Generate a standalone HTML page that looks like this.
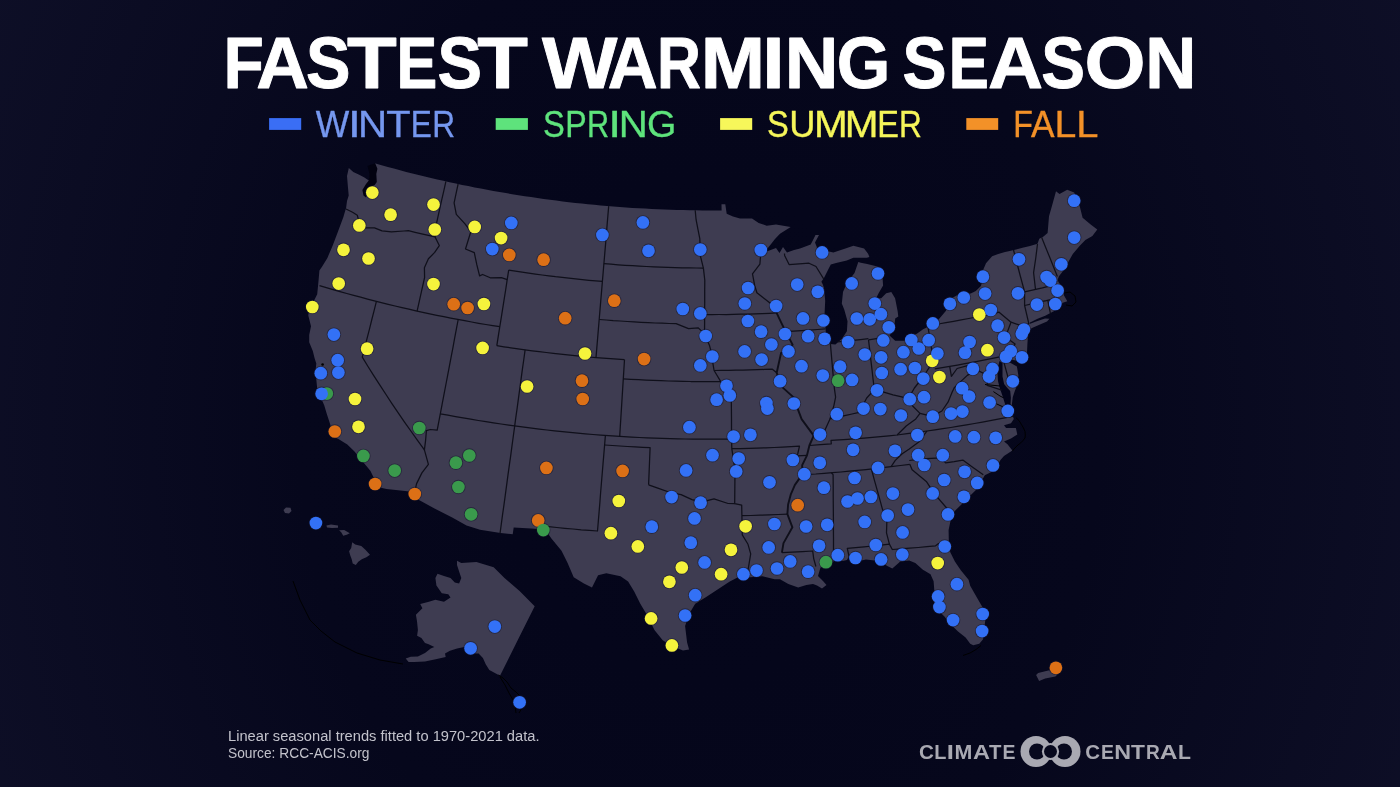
<!DOCTYPE html>
<html><head><meta charset="utf-8"><style>
html,body{margin:0;padding:0;background:#0a0b20;}
body{width:1400px;height:787px;overflow:hidden;position:relative;}
svg{position:absolute;left:0;top:0;}
text{font-family:"Liberation Sans",sans-serif;}
</style></head><body>
<svg width="1400" height="787" viewBox="0 0 1400 787">
<defs><filter id="gaa" x="-0.05" y="-0.3" width="1.1" height="1.6"><feOffset dx="0" dy="0"/></filter><radialGradient id="vg" cx="700" cy="430" r="800" gradientUnits="userSpaceOnUse" gradientTransform="translate(700 430) scale(1 1.25) translate(-700 -430)">
<stop offset="0" stop-color="#04051a"/><stop offset="0.5" stop-color="#06071c"/><stop offset="1" stop-color="#0e0f27"/></radialGradient></defs>
<rect width="1400" height="787" fill="url(#vg)"/>
<g filter="url(#gaa)" stroke="#fff" stroke-width="0.9" stroke-linejoin="round"><g aria-label="FASTEST"><text transform="translate(223.58 88.1) scale(0.9095 1)" font-size="72.6" font-weight="bold" fill="#fff">F</text><text transform="translate(256.18 88.1) scale(1.0040 1)" font-size="72.6" font-weight="bold" fill="#fff">A</text><text transform="translate(306.08 88.1) scale(0.9196 1)" font-size="72.6" font-weight="bold" fill="#fff">S</text><text transform="translate(347.08 88.1) scale(1.1228 1)" font-size="72.6" font-weight="bold" fill="#fff">T</text><text transform="translate(396.51 88.1) scale(0.8421 1)" font-size="72.6" font-weight="bold" fill="#fff">E</text><text transform="translate(437.48 88.1) scale(0.9196 1)" font-size="72.6" font-weight="bold" fill="#fff">S</text><text transform="translate(477.37 88.1) scale(1.1438 1)" font-size="72.6" font-weight="bold" fill="#fff">T</text></g><g aria-label="WARMING"><text transform="translate(542.12 88.1) scale(1.1012 1)" font-size="72.6" font-weight="bold" fill="#fff">W</text><text transform="translate(607.78 88.1) scale(0.9526 1)" font-size="72.6" font-weight="bold" fill="#fff">A</text><text transform="translate(656.93 88.1) scale(0.8376 1)" font-size="72.6" font-weight="bold" fill="#fff">R</text><text transform="translate(700.83 88.1) scale(1.0638 1)" font-size="72.6" font-weight="bold" fill="#fff">M</text><text transform="translate(762.31 88.1) scale(1.1092 1)" font-size="72.6" font-weight="bold" fill="#fff">I</text><text transform="translate(784.63 88.1) scale(1.0239 1)" font-size="72.6" font-weight="bold" fill="#fff">N</text><text transform="translate(836.87 88.1) scale(0.9492 1)" font-size="72.6" font-weight="bold" fill="#fff">G</text></g><g aria-label="SEASON"><text transform="translate(902.50 88.1) scale(0.9104 1)" font-size="72.6" font-weight="bold" fill="#fff">S</text><text transform="translate(948.67 88.1) scale(0.8298 1)" font-size="72.6" font-weight="bold" fill="#fff">E</text><text transform="translate(987.90 88.1) scale(1.0512 1)" font-size="72.6" font-weight="bold" fill="#fff">A</text><text transform="translate(1041.21 88.1) scale(0.9035 1)" font-size="72.6" font-weight="bold" fill="#fff">S</text><text transform="translate(1084.58 88.1) scale(1.0804 1)" font-size="72.6" font-weight="bold" fill="#fff">O</text><text transform="translate(1145.17 88.1) scale(0.9747 1)" font-size="72.6" font-weight="bold" fill="#fff">N</text></g></g>
<rect x="269.1" y="118.1" width="32.1" height="11.8" fill="#3a6ef5"/>
<rect x="495.7" y="118.1" width="32.2" height="11.8" fill="#5ee37c"/>
<rect x="720.1" y="118.1" width="32.1" height="11.8" fill="#f7f75a"/>
<rect x="966.3" y="118.1" width="31.9" height="11.8" fill="#f39128"/>
<g filter="url(#gaa)"><g aria-label="WINTER" stroke="#7597ef" stroke-width="0.35"><text transform="translate(315.74 136.9) scale(0.9383 1)" font-size="37.8" font-weight="normal" fill="#7597ef">W</text><text transform="translate(348.05 136.9) scale(1.2198 1)" font-size="37.8" font-weight="normal" fill="#7597ef">I</text><text transform="translate(358.10 136.9) scale(1.0656 1)" font-size="37.8" font-weight="normal" fill="#7597ef">N</text><text transform="translate(386.21 136.9) scale(1.0527 1)" font-size="37.8" font-weight="normal" fill="#7597ef">T</text><text transform="translate(410.81 136.9) scale(0.8347 1)" font-size="37.8" font-weight="normal" fill="#7597ef">E</text><text transform="translate(432.20 136.9) scale(0.8376 1)" font-size="37.8" font-weight="normal" fill="#7597ef">R</text></g><g aria-label="SPRING" stroke="#5ee37c" stroke-width="0.35"><text transform="translate(542.92 136.9) scale(0.8639 1)" font-size="37.8" font-weight="normal" fill="#5ee37c">S</text><text transform="translate(565.36 136.9) scale(0.8500 1)" font-size="37.8" font-weight="normal" fill="#5ee37c">P</text><text transform="translate(586.89 136.9) scale(0.8109 1)" font-size="37.8" font-weight="normal" fill="#5ee37c">R</text><text transform="translate(608.25 136.9) scale(1.2198 1)" font-size="37.8" font-weight="normal" fill="#5ee37c">I</text><text transform="translate(618.80 136.9) scale(1.0656 1)" font-size="37.8" font-weight="normal" fill="#5ee37c">N</text><text transform="translate(647.00 136.9) scale(0.9969 1)" font-size="37.8" font-weight="normal" fill="#5ee37c">G</text></g><g aria-label="SUMMER" stroke="#f5f55a" stroke-width="0.35"><text transform="translate(767.02 136.9) scale(0.8639 1)" font-size="37.8" font-weight="normal" fill="#f5f55a">S</text><text transform="translate(789.30 136.9) scale(0.9597 1)" font-size="37.8" font-weight="normal" fill="#f5f55a">U</text><text transform="translate(814.08 136.9) scale(1.0717 1)" font-size="37.8" font-weight="normal" fill="#f5f55a">M</text><text transform="translate(844.68 136.9) scale(1.0717 1)" font-size="37.8" font-weight="normal" fill="#f5f55a">M</text><text transform="translate(877.24 136.9) scale(0.8591 1)" font-size="37.8" font-weight="normal" fill="#f5f55a">E</text><text transform="translate(899.10 136.9) scale(0.8376 1)" font-size="37.8" font-weight="normal" fill="#f5f55a">R</text></g><g aria-label="FALL" stroke="#f39128" stroke-width="0.35"><text transform="translate(1013.17 136.9) scale(0.8498 1)" font-size="37.8" font-weight="normal" fill="#f39128">F</text><text transform="translate(1030.93 136.9) scale(0.9336 1)" font-size="37.8" font-weight="normal" fill="#f39128">A</text><text transform="translate(1054.58 136.9) scale(1.0380 1)" font-size="37.8" font-weight="normal" fill="#f39128">L</text><text transform="translate(1076.33 136.9) scale(1.0560 1)" font-size="37.8" font-weight="normal" fill="#f39128">L</text></g></g>
<g fill="#3e3c51">
<path d="M348.8,168.1 L353.3,171.9 L358.7,174.5 L364.0,177.2 L368.8,180.4 L370.0,176.0 L372.5,170.0 L375.2,163.3 L375.5,163.5 L381.6,165.3 L387.8,167.0 L393.9,168.6 L400.1,170.3 L406.2,171.9 L412.4,173.5 L418.6,175.0 L424.8,176.5 L431.0,178.0 L437.2,179.4 L443.4,180.8 L449.6,182.2 L455.9,183.5 L462.1,184.9 L468.3,186.1 L474.6,187.4 L480.8,188.6 L487.1,189.8 L493.4,190.9 L499.6,192.0 L505.9,193.1 L512.2,194.2 L518.5,195.2 L524.8,196.2 L531.1,197.1 L537.4,198.1 L543.7,198.9 L550.0,199.8 L556.3,200.6 L562.7,201.4 L569.0,202.2 L575.3,202.9 L581.7,203.6 L588.0,204.2 L594.3,204.8 L600.7,205.4 L607.0,206.0 L613.4,206.5 L619.7,207.0 L626.1,207.5 L632.5,207.9 L638.8,208.3 L645.2,208.6 L651.5,209.0 L657.9,209.3 L664.3,209.5 L670.6,209.7 L677.0,209.9 L683.4,210.1 L689.7,210.2 L696.1,210.3 L702.5,210.4 L708.9,210.4 L715.2,210.4 L721.6,210.4 L721.5,204.3 L725.3,204.3 L726.7,213.7 L733.0,216.5 L740.0,218.4 L752.0,218.4 L758.7,223.0 L766.7,225.7 L776.0,224.4 L790.7,227.0 L780.0,233.7 L775.0,239.0 L770.7,244.4 L765.4,251.0 L768.0,251.0 L776.0,248.0 L779.5,253.0 L783.0,247.0 L787.0,252.5 L794.0,250.0 L800.0,248.4 L810.7,244.4 L812.5,241.0 L815.5,235.0 L819.0,235.0 L815.0,242.5 L817.4,248.4 L826.7,251.0 L833.4,252.4 L845.4,248.4 L853.4,245.7 L864.1,248.4 L868.1,253.7 L869.4,257.0 L866.8,257.7 L853.4,257.7 L846.8,260.4 L836.1,263.0 L830.8,264.4 L828.1,269.7 L824.1,277.7 L821.4,281.7 L822.7,284.3 L824.0,288.1 L825.2,300.8 L824.6,313.5 L825.2,326.2 L826.5,337.7 L830.3,344.0 L835.4,344.5 L841.8,339.0 L846.9,331.3 L847.5,321.2 L844.3,309.7 L841.8,303.4 L843.0,291.9 L846.9,283.0 L854.5,272.9 L858.3,262.0 L860.8,262.7 L867.2,264.0 L877.4,266.5 L882.4,275.4 L883.1,285.6 L878.6,293.2 L876.1,298.3 L881.2,298.3 L886.2,293.2 L891.3,291.9 L895.1,298.3 L897.7,311.4 L898.3,316.5 L895.2,318.4 L894.5,325.4 L893.3,330.5 L889.5,335.6 L895.2,340.7 L904.1,340.7 L911.7,335.6 L916.8,333.7 L923.1,329.2 L928.2,326.7 L933.0,323.0 L939.0,319.1 L946.0,310.8 L947.0,303.0 L951.0,298.5 L956.7,295.4 L964.0,294.0 L970.7,293.5 L975.8,291.0 L980.9,285.9 L981.9,282.5 L982.9,270.4 L986.0,263.3 L992.1,256.2 L998.2,254.1 L1005.0,252.1 L1007.5,251.6 L1015.0,249.8 L1022.5,247.8 L1030.0,245.9 L1037.5,243.8 L1039.3,238.7 L1043.5,236.6 L1047.6,233.1 L1049.0,216.3 L1051.8,206.6 L1056.0,191.2 L1059.5,194.0 L1067.2,189.8 L1074.2,192.6 L1079.8,206.6 L1082.6,217.7 L1091.0,224.7 L1097.3,229.6 L1092.4,235.9 L1085.4,240.1 L1079.8,245.7 L1072.8,254.1 L1067.2,263.9 L1063.0,270.9 L1058.8,276.5 L1057.6,280.0 L1059.0,283.0 L1063.5,287.5 L1063.9,295.2 L1067.3,301.3 L1062.8,302.8 L1060.5,305.8 L1055.2,310.4 L1045.2,315.7 L1037.6,318.8 L1030.0,322.6 L1029.5,324.0 L1036.0,321.5 L1045.0,318.5 L1049.5,318.8 L1047.0,321.5 L1040.0,324.5 L1032.0,328.0 L1029.0,330.0 L1028.1,333.1 L1027.4,344.3 L1026.7,358.3 L1021.1,363.9 L1016.0,360.5 L1010.0,359.5 L1009.0,362.0 L1016.9,366.4 L1018.4,375.6 L1016.9,385.7 L1014.9,390.8 L1012.8,396.9 L1011.8,405.0 L1010.8,407.0 L1009.5,407.5 L1011.5,412.0 L1013.8,419.0 L1011.0,423.2 L1004.0,425.3 L1006.1,428.1 L1015.9,428.1 L1017.3,434.4 L1011.0,438.6 L1004.0,441.4 L1007.5,444.2 L1012.4,450.5 L1004.0,456.0 L1000.5,460.0 L998.2,463.9 L992.4,471.5 L984.8,475.3 L977.2,488.7 L969.6,496.3 L961.9,503.9 L954.3,511.5 L950.5,521.1 L948.6,530.0 L948.8,540.0 L948.8,544.6 L950.3,552.2 L954.9,561.4 L961.0,570.5 L968.6,579.7 L970.2,585.8 L976.3,596.4 L982.4,607.1 L985.4,619.3 L983.9,631.5 L983.1,639.2 L979.3,643.7 L973.2,645.3 L970.2,643.7 L965.6,637.6 L958.0,631.5 L951.9,625.4 L944.2,616.3 L938.1,610.2 L932.8,599.5 L934.3,590.3 L933.6,581.2 L930.5,574.3 L922.9,569.7 L915.3,562.9 L909.2,560.6 L900.0,561.4 L898.9,562.7 L892.3,568.4 L887.3,566.0 L879.1,561.0 L865.9,559.4 L859.3,561.0 L851.0,562.7 L848.5,557.0 L847.0,560.0 L842.7,561.0 L834.5,561.0 L829.5,562.7 L826.0,566.0 L820.5,567.5 L818.0,576.0 L823.0,581.0 L826.5,585.0 L822.0,588.5 L817.0,585.5 L813.0,584.0 L806.4,585.0 L798.2,587.4 L788.3,584.1 L780.0,579.2 L774.6,579.3 L762.4,576.3 L750.2,577.3 L738.0,577.3 L729.8,581.4 L717.6,589.5 L705.4,597.6 L695.2,603.7 L689.1,613.9 L685.1,626.1 L687.1,642.4 L689.1,649.5 L683.0,650.5 L672.9,646.4 L662.7,640.3 L654.6,630.2 L646.4,613.9 L640.3,603.7 L634.2,591.5 L628.1,581.4 L620.5,576.3 L606.3,573.2 L598.1,575.2 L592.0,587.5 L583.9,583.4 L573.7,577.3 L567.6,563.0 L561.5,550.8 L551.4,538.6 L545.2,529.5 L531.0,528.5 L513.7,527.5 L512.7,534.2 L500.5,532.9 L480.0,529.8 L466.5,525.4 L452.2,517.4 L434.5,508.5 L416.7,498.7 L409.6,491.6 L386.5,488.9 L377.6,487.1 L374.0,478.2 L370.5,471.1 L363.3,462.2 L354.5,451.6 L347.3,444.5 L338.4,439.1 L331.3,435.6 L330.4,424.9 L326.9,414.2 L324.2,405.3 L319.9,395.6 L317.2,388.5 L316.3,379.6 L315.5,370.7 L316.3,363.6 L314.6,358.3 L312.8,351.1 L309.2,342.2 L309.2,335.1 L311.0,326.2 L308.3,315.6 L309.2,308.5 L314.6,299.6 L317.2,294.2 L318.1,285.3 L318.5,281.0 L319.4,270.4 L322.0,266.8 L327.4,257.9 L332.7,245.4 L338.1,231.2 L343.4,217.0 L345.2,210.7 L346.1,208.1 L347.0,201.0 L348.7,195.6 L347.9,186.7 L347.0,176.0Z"/>
<path d="M457.0,560.8 L461.3,563.0 L476.4,561.9 L493.7,567.3 L504.5,578.1 L519.6,591.0 L534.7,606.2 L517.8,640.0 L500.0,675.7 L489.3,670.0 L485.7,664.3 L482.9,657.9 L478.6,653.6 L471.4,653.6 L464.3,647.1 L457.1,648.6 L450.0,650.7 L445.0,653.6 L445.7,657.1 L435.7,659.3 L425.0,661.4 L414.3,662.1 L408.6,662.1 L405.7,658.6 L410.7,656.8 L417.9,656.4 L425.0,652.9 L430.7,648.6 L434.3,647.1 L428.6,644.3 L425.0,642.9 L421.4,637.9 L417.1,635.7 L417.9,630.0 L417.0,621.3 L415.9,614.8 L422.4,608.3 L420.2,604.0 L428.9,601.8 L435.4,599.7 L444.0,601.8 L450.5,597.5 L448.3,594.3 L441.8,593.2 L436.4,585.6 L435.4,578.1 L437.5,573.8 L444.0,575.9 L450.5,578.1 L454.8,582.4 L459.1,583.5 L461.3,578.1 L459.1,571.6 L457.0,565.1Z"/>
<path d="M283.5,510.0 L286.0,507.5 L290.5,507.8 L291.5,511.0 L289.0,513.5 L285.0,513.0Z"/><path d="M326.4,525.5 L331.0,524.6 L338.0,525.5 L338.0,527.8 L332.0,528.0 L327.0,527.5Z"/><path d="M339.1,530.2 L344.2,529.9 L349.8,533.2 L346.8,534.7 L343.2,535.8 L341.2,532.2Z"/><path d="M352.2,542.3 L355.2,544.6 L361.3,546.1 L365.4,549.7 L370.0,554.7 L366.4,557.3 L361.8,559.3 L358.3,561.8 L355.8,564.9 L352.7,563.4 L351.7,559.3 L350.2,555.2 L349.1,551.2 L351.2,548.1Z"/>
<path d="M1036.1,674.9 L1038.1,672.9 L1049.3,670.3 L1058.5,673.4 L1055.4,676.4 L1045.2,678.5 L1039.1,681.0Z"/>
</g>
<path d="M367.5,166.0 L375.2,163.3 L377.4,168.7 L376.3,174.0 L376.8,182.0 L374.7,185.0 L370.5,187.0 L368.5,192.0 L366.0,197.5 L363.5,195.5 L362.4,190.0 L366.0,184.0 L368.8,180.4 L369.5,174.0Z" fill="#020210"/>
<path d="M999.5,361.0 L1002.5,363.0 L1002.5,376.4 L1004.1,384.0 L1007.1,387.8 L1010.2,390.9 L1010.9,397.7 L1010.5,404.0 L1012.0,407.0 L1009.0,408.5 L1005.5,405.5 L1003.5,399.0 L1001.5,393.0 L999.5,387.0 L998.0,381.0 L997.5,374.0 L998.0,367.0Z" fill="#03041a"/>
<g fill="none" stroke="#000" stroke-width="1" stroke-linejoin="round"><path d="M293.0,581.0 L300.0,600.0 L310.0,620.0 L321.0,631.0 L335.0,642.0 L357.0,653.0 L380.0,660.0 L403.0,664.0"/><path d="M498.5,675.0 L503.0,678.0 L507.0,682.0 L511.0,688.0 L516.0,692.0 L520.0,696.0 L523.0,701.0 L522.0,708.0 L519.0,713.0"/><path d="M500.0,677.0 L505.0,685.0 L509.0,693.0 L513.0,700.0 L515.0,706.0 L516.0,713.0"/><path d="M1064.0,293.0 L1070.0,292.0 L1075.0,296.0 L1076.0,302.0 L1072.0,306.0 L1066.0,305.0"/><path d="M981.0,645.5 L976.0,649.5 L970.0,653.0 L963.0,655.5"/><path d="M1015.9,417.6 L1019.0,420.5 L1021.5,424.6 L1023.5,428.0 L1025.0,431.6 L1025.3,435.0 L1025.0,437.9 L1023.0,440.5 L1020.8,442.8 L1018.0,445.0 L1015.9,447.0 L1014.0,449.0 L1012.4,451.2"/><path d="M985.0,384.5 L990.0,385.0 L995.0,385.5 L1000.0,386.0"/><path d="M993.4,391.6 L997.0,394.0 L1000.0,396.0 L1003.3,397.7"/><path d="M996.4,403.8 L1000.0,405.5 L1004.8,407.6"/></g>
<g fill="none" stroke="#0f0f1a" stroke-width="1.25" stroke-linejoin="round"><path d="M346.0,209.0 L352.6,212.3 L357.3,215.2 L358.6,220.5 L358.6,225.1 L364.8,227.8 L374.5,227.9 L382.0,230.9 L391.4,231.8 L404.0,231.0 L408.4,230.7 L415.1,232.3 L421.7,233.9 L428.4,235.4 L435.1,236.9"/><path d="M445.9,181.4 L443.8,190.8 L441.6,200.3 L439.5,209.8 L437.4,219.3 L435.2,228.8 L435.1,236.9"/><path d="M435.1,236.9 L439.3,245.6 L434.7,252.4 L428.4,258.8 L424.4,267.7 L424.6,277.5 L422.1,288.7 L419.6,299.9 L417.1,311.1"/><path d="M319.5,285.6 L326.3,287.6 L333.1,289.6 L340.0,291.6 L346.8,293.5 L353.7,295.4 L360.6,297.2 L367.5,299.1 L374.4,300.9 L381.3,302.6 L388.2,304.3 L395.1,306.0 L402.0,307.6 L408.9,309.2 L415.9,310.8 L422.8,312.3 L429.8,313.8 L436.8,315.3 L443.8,316.7 L450.7,318.1 L457.7,319.4 L464.7,320.7 L471.7,322.0 L478.7,323.3 L485.8,324.5 L492.8,325.6 L499.8,326.7"/><path d="M376.4,301.4 L374.1,310.7 L371.7,320.0 L369.4,329.3 L367.0,338.6 L364.6,347.9 L362.3,357.2 L368.0,366.5 L373.9,375.9 L379.9,385.2 L386.0,394.5 L392.1,403.8 L398.4,413.1 L404.7,422.3 L411.2,431.5 L417.7,440.7 L424.4,449.9"/><path d="M424.4,449.9 L425.6,440.3 L426.4,430.7 L430.4,429.5 L437.2,430.2 L440.3,413.8"/><path d="M440.3,413.8 L442.1,404.4 L443.9,394.9 L445.7,385.5 L447.5,376.1 L449.3,366.6 L451.1,357.2 L452.9,347.8 L454.6,338.3 L456.4,328.9 L458.2,319.5"/><path d="M424.4,449.9 L428.4,464.3 L421.9,472.9 L416.6,483.6 L414.5,492.5"/><path d="M499.8,326.7 L501.3,317.3 L502.8,307.8 L504.3,298.4 L505.8,289.0 L507.2,279.6 L508.7,270.2"/><path d="M507.2,279.6 L501.4,277.7 L490.3,277.8 L482.6,274.5 L479.6,275.9 L476.8,264.7 L474.3,252.7 L465.5,249.0 L470.8,231.7 L465.0,223.9 L456.3,214.4 L454.1,202.8 L456.1,193.4 L458.1,184.0"/><path d="M508.7,270.2 L515.4,271.2 L522.1,272.2 L528.7,273.2 L535.4,274.1 L542.1,275.0 L548.8,275.8 L555.5,276.7 L562.2,277.4 L568.9,278.2 L575.6,278.9 L582.3,279.6 L589.0,280.3 L595.7,280.9 L602.4,281.4"/><path d="M608.7,206.1 L607.9,215.5 L607.1,224.9 L606.4,234.2 L605.6,243.7 L604.8,253.1 L604.0,262.5 L603.2,272.0 L602.4,281.4 L601.6,290.9 L600.8,300.4 L600.0,309.9 L599.2,319.5 L598.4,329.0 L597.6,338.5 L596.8,348.1 L596.0,357.6"/><path d="M496.8,345.7 L503.9,346.8 L510.9,347.8 L518.0,348.8 L525.1,349.8 L532.2,350.8 L539.2,351.7 L546.3,352.5 L553.4,353.4 L560.5,354.2 L567.6,354.9 L574.7,355.7 L581.8,356.4 L588.9,357.0 L596.0,357.6 L603.1,358.2 L610.3,358.7 L617.4,359.2 L624.5,359.7"/><path d="M499.8,326.7 L498.3,336.2 L496.8,345.7"/><path d="M525.1,349.8 L523.8,359.5 L522.4,369.2 L521.1,378.9 L519.8,388.5 L518.5,398.2 L517.2,407.9 L515.8,417.6 L514.5,427.3 L513.2,437.0 L511.9,446.7 L510.6,456.4 L509.2,466.1 L507.9,475.7 L506.6,485.4 L505.3,495.1 L504.0,504.7 L502.6,514.4 L501.3,524.1 L500.0,533.7"/><path d="M440.3,413.8 L447.9,415.2 L455.5,416.6 L463.1,417.9 L470.7,419.2 L478.3,420.5 L485.9,421.7 L493.5,422.9 L501.1,424.0 L508.8,425.1 L516.4,426.2 L524.0,427.2 L531.7,428.1 L539.3,429.1 L547.0,430.0 L554.6,430.8 L562.3,431.6 L570.0,432.4 L577.7,433.1 L585.3,433.8 L593.0,434.5 L600.7,435.1 L608.4,435.6 L616.1,436.1 L623.8,436.6 L631.5,437.1 L639.2,437.5 L646.9,437.8 L654.6,438.1 L662.3,438.4 L670.0,438.7 L677.7,438.9 L685.4,439.0 L693.1,439.1 L700.8,439.2 L708.5,439.2 L716.2,439.2 L723.9,439.2 L731.6,439.1"/><path d="M624.5,359.7 L623.9,369.3 L623.3,378.9 L622.7,388.4 L622.1,398.0 L621.5,407.6 L620.9,417.2 L620.3,426.8 L619.7,436.4"/><path d="M623.3,378.9 L630.8,379.3 L638.3,379.7 L645.8,380.1 L653.3,380.4 L660.8,380.7 L668.3,381.0 L675.8,381.2 L683.3,381.3 L690.8,381.5 L698.3,381.5 L705.8,381.6 L713.3,381.6 L720.8,381.6"/><path d="M605.4,435.4 L604.6,445.0 L603.8,454.6 L603.0,464.1 L602.2,473.7 L601.4,483.3 L600.6,492.8 L599.9,502.4 L599.1,511.9 L598.3,521.5 L597.5,531.0 L589.3,530.4 L581.2,529.8 L573.0,529.0 L564.9,528.3 L556.8,527.5 L548.6,526.7 L540.5,525.8"/><path d="M604.7,445.0 L612.3,445.5 L619.8,446.0 L627.4,446.5 L635.0,446.9 L642.6,447.3 L650.1,447.6 L649.6,460.0 L649.1,472.4 L648.6,484.8"/><path d="M648.6,484.8 L657.8,488.2 L670.2,492.5 L681.1,494.6 L692.0,499.6 L701.4,502.2 L714.0,498.8 L728.1,503.5 L734.7,503.6"/><path d="M599.2,319.5 L606.2,320.0 L613.2,320.6 L620.2,321.0 L627.2,321.5 L634.1,321.9 L641.1,322.3 L648.1,322.7 L655.1,323.0 L662.1,323.2 L669.1,323.5 L676.1,323.7 L688.5,328.7 L698.3,327.9 L704.5,333.9"/><path d="M603.9,263.7 L611.0,264.2 L618.1,264.8 L625.2,265.3 L632.3,265.7 L639.4,266.1 L646.5,266.5 L653.6,266.8 L660.7,267.1 L667.8,267.4 L674.9,267.6 L682.0,267.8 L689.1,267.9 L696.3,268.0 L703.4,268.1"/><path d="M703.4,268.1 L700.3,255.6 L699.8,238.6 L697.9,229.1 L696.1,219.7 L695.2,210.3"/><path d="M703.4,268.1 L704.8,280.3 L704.7,291.7 L704.7,303.1 L704.6,314.6 L704.6,324.2 L704.5,333.9"/><path d="M704.5,333.9 L709.4,345.2 L711.5,352.8 L712.7,362.4 L714.1,370.5 L720.8,381.6"/><path d="M720.8,381.6 L725.8,391.1 L731.3,398.7 L731.4,408.8 L731.5,418.9 L731.5,429.0 L731.6,439.1 L731.8,448.7"/><path d="M714.1,370.5 L721.4,370.4 L728.6,370.4 L735.9,370.2 L743.1,370.1 L750.4,369.9 L757.6,369.7 L764.9,369.4 L772.1,369.1 L776.7,372.7"/><path d="M704.6,314.6 L711.8,314.6 L719.0,314.5 L726.2,314.5 L733.4,314.4 L740.6,314.2 L747.8,314.1 L755.0,313.8 L762.3,313.6 L769.5,313.3 L776.6,312.9"/><path d="M776.6,312.9 L771.0,303.7 L763.9,298.2 L756.9,292.8 L754.6,285.2 L752.5,273.9 L759.9,264.1 L760.8,252.7"/><path d="M776.6,312.9 L781.1,322.3 L785.7,331.6 L792.6,344.6 L787.4,351.6 L781.1,352.9 L778.9,362.8 L776.7,372.7 L780.6,385.6 L788.6,392.9 L796.7,400.1 L796.6,405.9 L801.6,419.1 L813.7,435.6" stroke-width="1.9"/><path d="M731.8,448.7 L740.2,448.6 L748.7,448.4 L757.2,448.1 L765.7,447.8 L774.1,447.5 L782.6,447.1 L791.1,446.6 L799.5,446.2 L797.7,454.0 L796.7,455.9 L807.0,455.3"/><path d="M813.7,435.6 L809.4,445.5 L807.0,455.3 L802.2,465.2 L802.0,474.9 L794.9,484.9 L790.7,494.7 L788.1,504.5 L787.4,514.1 L792.4,527.3 L783.5,543.1 L781.9,552.7" stroke-width="1.9"/><path d="M731.8,448.7 L733.4,459.2 L735.0,469.8 L734.9,481.1 L734.8,492.3 L734.7,503.6 L741.7,505.2 L741.9,515.7"/><path d="M741.9,515.7 L751.0,515.5 L760.1,515.2 L769.2,514.9 L778.3,514.5 L787.4,514.1"/><path d="M741.9,515.7 L742.1,525.3 L742.3,534.9 L748.0,544.3 L750.7,553.8 L748.5,567.2 L746.3,578.7"/><path d="M781.9,552.7 L792.2,552.2 L802.5,551.6 L812.7,551.0 L813.7,558.6 L815.9,566.5"/><path d="M831.4,472.8 L833.1,474.6 L833.2,485.3 L833.2,496.0 L833.3,506.7 L833.4,517.4 L833.4,528.1 L833.5,538.8 L833.5,549.5 L835.2,560.9"/><path d="M799.0,475.1 L807.3,474.5 L815.7,474.0 L824.1,473.3 L832.5,472.7 L840.9,472.0 L849.3,471.2 L857.6,470.4 L866.0,469.6 L874.4,468.7 L882.7,467.7 L891.1,466.7 L900.5,465.5 L909.8,464.3"/><path d="M871.4,469.0 L874.1,479.1 L876.9,489.1 L879.7,499.2 L882.5,509.3 L886.9,519.4 L886.5,532.9 L889.4,544.1"/><path d="M850.1,561.5 L847.3,548.4 L855.7,547.6 L864.1,546.8 L872.6,546.0 L881.0,545.1 L889.4,544.1 L892.3,549.5 L901.0,548.9 L909.6,548.2 L918.3,547.5 L927.0,546.7 L935.6,545.8 L938.6,543.5 L947.5,542.1"/><path d="M909.8,464.3 L912.1,469.8 L926.3,481.4 L934.5,493.8 L946.2,507.5 L952.3,515.3"/><path d="M891.1,466.7 L895.3,460.4 L902.2,453.7 L909.3,448.9 L919.1,441.7 L927.0,431.0"/><path d="M809.4,445.5 L820.3,444.7 L831.3,443.9 L831.0,440.4 L839.3,439.9 L847.6,439.3 L855.8,438.7 L864.1,438.1 L872.4,437.4 L880.6,436.6 L888.9,435.8 L897.1,435.0 L907.1,433.7 L917.1,432.4 L927.0,431.0"/><path d="M927.0,431.0 L935.0,429.9 L942.9,428.7 L950.8,427.5 L958.7,426.2 L966.6,424.9 L974.5,423.5 L982.4,422.1 L990.2,420.7 L998.1,419.2 L1006.0,417.7 L1013.8,416.1"/><path d="M909.3,460.5 L921.5,458.8 L931.2,458.4 L940.9,457.9 L945.6,462.9 L954.2,461.6 L962.8,460.1 L973.0,467.5 L983.3,474.8"/><path d="M897.1,435.0 L906.2,426.0 L915.8,418.9 L920.0,413.4 L912.4,405.8 L908.4,398.6"/><path d="M920.0,413.4 L932.1,416.4 L941.9,411.0 L948.0,402.2 L952.3,391.7 L954.5,387.4 L960.9,381.4 L967.3,375.4 L976.4,369.8"/><path d="M976.4,369.8 L968.4,365.4 L957.1,368.5 L951.4,376.3 L949.7,366.4"/><path d="M976.4,369.8 L987.5,375.4 L987.2,385.3 L1001.8,390.2"/><path d="M934.8,368.9 L942.3,367.7 L949.8,366.4 L957.4,365.1 L964.9,363.7 L972.4,362.3 L979.9,360.9 L987.4,359.4 L994.9,357.9 L1002.3,356.3"/><path d="M927.8,325.8 L929.9,338.6 L932.0,351.5 L931.4,364.1 L923.1,377.0 L914.4,388.0 L908.4,398.6"/><path d="M908.4,398.6 L900.7,396.7 L893.0,394.8 L883.8,392.1 L874.6,389.4 L866.7,398.0 L859.3,412.3 L852.0,414.0 L844.7,415.7 L837.3,417.3 L830.0,418.9 L823.6,432.9 L813.7,435.6"/><path d="M868.5,339.8 L869.7,349.7 L870.8,359.6 L872.0,369.6 L873.1,379.5 L874.3,389.4"/><path d="M868.5,339.8 L878.1,338.4 L887.7,336.9"/><path d="M837.7,341.9 L845.4,341.2 L853.1,340.4 L860.7,339.6 L868.4,338.7"/><path d="M830.3,342.6 L831.3,354.1 L832.3,365.6 L833.3,377.1 L834.4,388.7 L835.6,397.2 L834.0,405.1 L830.0,418.9"/><path d="M785.7,331.6 L793.6,331.1 L801.5,330.6 L809.5,330.1 L817.4,329.5 L825.3,328.8"/><path d="M823.8,279.2 L816.0,266.5 L809.0,263.2 L802.4,263.7 L795.8,264.2 L789.1,264.6 L784.6,255.4 L784.5,253.5"/><path d="M937.5,318.9 L938.3,324.0 L946.0,322.7 L953.6,321.3 L961.2,319.9 L968.8,318.5 L976.4,317.0 L984.0,315.5 L991.6,313.9 L999.1,312.2 L1011.0,322.2"/><path d="M1011.0,322.2 L1007.3,332.1 L1008.9,339.5 L1015.1,344.1 L1008.8,352.3 L1006.5,355.4"/><path d="M1011.0,322.2 L1023.5,326.4 L1023.0,333.4"/><path d="M1002.3,356.3 L1005.5,368.1 L1008.7,379.9 L1018.1,377.8"/><path d="M1002.3,356.3 L1004.5,353.5 L1007.3,353.7"/><path d="M1013.5,250.0 L1016.9,263.0 L1020.3,276.0 L1024.6,291.9"/><path d="M1024.6,291.9 L1024.6,305.5 L1028.7,323.2 L1027.0,325.6"/><path d="M1024.6,291.9 L1033.5,289.8 L1042.4,287.8 L1051.2,285.6 L1057.2,281.0"/><path d="M1035.5,289.4 L1033.6,272.7 L1035.7,258.5 L1037.5,244.0"/><path d="M1041.6,237.3 L1045.5,247.0 L1049.5,256.8 L1053.4,266.6 L1057.4,276.4"/><path d="M1024.6,305.5 L1031.8,303.9 L1039.1,302.2 L1046.3,300.6 L1053.5,298.8 L1059.6,307.5"/><path d="M1047.8,300.3 L1050.4,313.3"/></g>
<circle cx="322.6" cy="364.5" r="1.3" fill="#000"/>
<g fill="#15162e" fill-opacity="0.55"><circle cx="372.3" cy="192.6" r="7.2"/><circle cx="433.5" cy="204.6" r="7.2"/><circle cx="390.6" cy="214.7" r="7.2"/><circle cx="359.3" cy="225.4" r="7.2"/><circle cx="434.8" cy="229.5" r="7.2"/><circle cx="474.7" cy="226.9" r="7.2"/><circle cx="501.1" cy="238.1" r="7.2"/><circle cx="509.3" cy="254.9" r="7.2"/><circle cx="543.6" cy="259.7" r="7.2"/><circle cx="343.5" cy="249.8" r="7.2"/><circle cx="368.5" cy="258.5" r="7.2"/><circle cx="338.7" cy="283.6" r="7.2"/><circle cx="433.5" cy="284.1" r="7.2"/><circle cx="312.3" cy="307.0" r="7.2"/><circle cx="453.7" cy="304.2" r="7.2"/><circle cx="467.6" cy="308.0" r="7.2"/><circle cx="483.9" cy="304.0" r="7.2"/><circle cx="614.3" cy="300.7" r="7.2"/><circle cx="565.2" cy="318.2" r="7.2"/><circle cx="367.1" cy="348.7" r="7.2"/><circle cx="482.6" cy="347.9" r="7.2"/><circle cx="585.0" cy="353.5" r="7.2"/><circle cx="979.3" cy="314.6" r="7.2"/><circle cx="987.4" cy="350.2" r="7.2"/><circle cx="939.4" cy="377.1" r="7.2"/><circle cx="326.8" cy="393.6" r="7.2"/><circle cx="355.0" cy="399.0" r="7.2"/><circle cx="527.1" cy="386.5" r="7.2"/><circle cx="582.0" cy="380.7" r="7.2"/><circle cx="582.7" cy="399.0" r="7.2"/><circle cx="358.5" cy="426.8" r="7.2"/><circle cx="334.8" cy="431.5" r="7.2"/><circle cx="419.3" cy="428.0" r="7.2"/><circle cx="469.3" cy="455.5" r="7.2"/><circle cx="455.9" cy="462.7" r="7.2"/><circle cx="363.4" cy="455.9" r="7.2"/><circle cx="394.7" cy="470.6" r="7.2"/><circle cx="546.4" cy="467.9" r="7.2"/><circle cx="622.6" cy="470.9" r="7.2"/><circle cx="375.1" cy="484.0" r="7.2"/><circle cx="414.8" cy="494.0" r="7.2"/><circle cx="458.4" cy="487.0" r="7.2"/><circle cx="618.8" cy="501.0" r="7.2"/><circle cx="471.1" cy="514.3" r="7.2"/><circle cx="538.2" cy="520.4" r="7.2"/><circle cx="543.3" cy="530.1" r="7.2"/><circle cx="610.9" cy="533.2" r="7.2"/><circle cx="932.2" cy="360.8" r="7.2"/><circle cx="644.1" cy="359.1" r="7.2"/><circle cx="838.1" cy="380.7" r="7.2"/><circle cx="797.7" cy="505.2" r="7.2"/><circle cx="745.6" cy="526.3" r="7.2"/><circle cx="637.8" cy="546.4" r="7.2"/><circle cx="731.0" cy="549.8" r="7.2"/><circle cx="681.8" cy="567.5" r="7.2"/><circle cx="721.1" cy="574.2" r="7.2"/><circle cx="669.4" cy="581.8" r="7.2"/><circle cx="651.1" cy="618.4" r="7.2"/><circle cx="671.9" cy="645.4" r="7.2"/><circle cx="825.9" cy="562.2" r="7.2"/><circle cx="937.7" cy="563.1" r="7.2"/><circle cx="1055.9" cy="667.8" r="7.2"/><circle cx="511.3" cy="222.9" r="7.2"/><circle cx="492.3" cy="249.1" r="7.2"/><circle cx="602.4" cy="234.9" r="7.2"/><circle cx="333.9" cy="334.6" r="7.2"/><circle cx="642.9" cy="222.4" r="7.2"/><circle cx="648.5" cy="250.8" r="7.2"/><circle cx="700.3" cy="249.6" r="7.2"/><circle cx="760.8" cy="250.1" r="7.2"/><circle cx="822.1" cy="252.4" r="7.2"/><circle cx="878.0" cy="273.5" r="7.2"/><circle cx="748.1" cy="288.0" r="7.2"/><circle cx="797.2" cy="284.6" r="7.2"/><circle cx="817.8" cy="291.8" r="7.2"/><circle cx="851.7" cy="283.4" r="7.2"/><circle cx="744.8" cy="303.5" r="7.2"/><circle cx="776.1" cy="306.0" r="7.2"/><circle cx="682.8" cy="309.0" r="7.2"/><circle cx="700.3" cy="313.4" r="7.2"/><circle cx="874.8" cy="303.6" r="7.2"/><circle cx="880.9" cy="314.2" r="7.2"/><circle cx="856.8" cy="318.5" r="7.2"/><circle cx="869.7" cy="319.3" r="7.2"/><circle cx="803.0" cy="318.4" r="7.2"/><circle cx="823.4" cy="320.5" r="7.2"/><circle cx="747.9" cy="321.0" r="7.2"/><circle cx="761.1" cy="331.7" r="7.2"/><circle cx="785.0" cy="334.0" r="7.2"/><circle cx="808.1" cy="336.2" r="7.2"/><circle cx="824.6" cy="338.8" r="7.2"/><circle cx="705.7" cy="336.0" r="7.2"/><circle cx="771.4" cy="344.5" r="7.2"/><circle cx="848.1" cy="342.1" r="7.2"/><circle cx="888.8" cy="327.3" r="7.2"/><circle cx="883.3" cy="340.4" r="7.2"/><circle cx="911.3" cy="340.0" r="7.2"/><circle cx="928.7" cy="340.2" r="7.2"/><circle cx="918.8" cy="348.5" r="7.2"/><circle cx="932.8" cy="323.4" r="7.2"/><circle cx="949.9" cy="303.8" r="7.2"/><circle cx="963.8" cy="297.5" r="7.2"/><circle cx="969.6" cy="342.0" r="7.2"/><circle cx="1074.2" cy="200.7" r="7.2"/><circle cx="1074.2" cy="237.6" r="7.2"/><circle cx="1019.0" cy="259.3" r="7.2"/><circle cx="1061.3" cy="264.3" r="7.2"/><circle cx="982.9" cy="276.7" r="7.2"/><circle cx="1046.6" cy="277.0" r="7.2"/><circle cx="1050.3" cy="280.6" r="7.2"/><circle cx="1057.6" cy="290.6" r="7.2"/><circle cx="985.1" cy="293.6" r="7.2"/><circle cx="1018.0" cy="293.3" r="7.2"/><circle cx="1036.9" cy="304.6" r="7.2"/><circle cx="1055.3" cy="304.0" r="7.2"/><circle cx="990.8" cy="310.0" r="7.2"/><circle cx="997.6" cy="325.7" r="7.2"/><circle cx="1023.9" cy="329.6" r="7.2"/><circle cx="1021.8" cy="333.8" r="7.2"/><circle cx="1004.1" cy="337.6" r="7.2"/><circle cx="965.0" cy="352.7" r="7.2"/><circle cx="937.4" cy="353.5" r="7.2"/><circle cx="1010.7" cy="351.2" r="7.2"/><circle cx="1006.0" cy="356.7" r="7.2"/><circle cx="1022.0" cy="357.3" r="7.2"/><circle cx="972.9" cy="368.8" r="7.2"/><circle cx="992.5" cy="368.9" r="7.2"/><circle cx="989.0" cy="376.6" r="7.2"/><circle cx="1012.8" cy="381.3" r="7.2"/><circle cx="337.7" cy="360.2" r="7.2"/><circle cx="320.8" cy="373.2" r="7.2"/><circle cx="338.4" cy="372.6" r="7.2"/><circle cx="321.6" cy="393.8" r="7.2"/><circle cx="315.9" cy="523.1" r="7.2"/><circle cx="744.6" cy="351.4" r="7.2"/><circle cx="788.5" cy="351.4" r="7.2"/><circle cx="864.8" cy="354.5" r="7.2"/><circle cx="881.1" cy="357.3" r="7.2"/><circle cx="903.4" cy="352.2" r="7.2"/><circle cx="712.3" cy="356.5" r="7.2"/><circle cx="700.3" cy="365.4" r="7.2"/><circle cx="761.6" cy="359.6" r="7.2"/><circle cx="801.5" cy="366.2" r="7.2"/><circle cx="840.1" cy="366.7" r="7.2"/><circle cx="822.8" cy="375.6" r="7.2"/><circle cx="852.1" cy="379.9" r="7.2"/><circle cx="881.8" cy="373.0" r="7.2"/><circle cx="900.6" cy="369.2" r="7.2"/><circle cx="914.9" cy="368.0" r="7.2"/><circle cx="923.3" cy="378.6" r="7.2"/><circle cx="962.1" cy="388.2" r="7.2"/><circle cx="969.1" cy="396.5" r="7.2"/><circle cx="780.1" cy="381.2" r="7.2"/><circle cx="726.5" cy="385.8" r="7.2"/><circle cx="729.8" cy="395.4" r="7.2"/><circle cx="716.6" cy="399.7" r="7.2"/><circle cx="766.4" cy="403.0" r="7.2"/><circle cx="767.4" cy="408.6" r="7.2"/><circle cx="793.9" cy="403.5" r="7.2"/><circle cx="877.0" cy="390.3" r="7.2"/><circle cx="909.8" cy="399.2" r="7.2"/><circle cx="924.0" cy="397.2" r="7.2"/><circle cx="863.5" cy="408.6" r="7.2"/><circle cx="880.3" cy="409.1" r="7.2"/><circle cx="836.8" cy="414.2" r="7.2"/><circle cx="900.9" cy="415.5" r="7.2"/><circle cx="932.8" cy="416.7" r="7.2"/><circle cx="951.0" cy="413.6" r="7.2"/><circle cx="962.4" cy="411.6" r="7.2"/><circle cx="689.4" cy="427.2" r="7.2"/><circle cx="733.6" cy="436.6" r="7.2"/><circle cx="750.4" cy="434.8" r="7.2"/><circle cx="820.0" cy="434.6" r="7.2"/><circle cx="855.6" cy="432.8" r="7.2"/><circle cx="917.4" cy="435.1" r="7.2"/><circle cx="955.2" cy="436.4" r="7.2"/><circle cx="973.9" cy="437.2" r="7.2"/><circle cx="853.1" cy="449.8" r="7.2"/><circle cx="895.0" cy="450.8" r="7.2"/><circle cx="918.2" cy="455.2" r="7.2"/><circle cx="942.8" cy="455.2" r="7.2"/><circle cx="712.5" cy="455.2" r="7.2"/><circle cx="738.7" cy="458.5" r="7.2"/><circle cx="792.9" cy="460.0" r="7.2"/><circle cx="819.8" cy="462.8" r="7.2"/><circle cx="924.3" cy="465.0" r="7.2"/><circle cx="878.0" cy="467.9" r="7.2"/><circle cx="964.6" cy="471.8" r="7.2"/><circle cx="686.1" cy="470.4" r="7.2"/><circle cx="736.2" cy="471.4" r="7.2"/><circle cx="804.3" cy="474.2" r="7.2"/><circle cx="854.6" cy="478.0" r="7.2"/><circle cx="944.2" cy="480.0" r="7.2"/><circle cx="769.5" cy="482.3" r="7.2"/><circle cx="823.9" cy="487.7" r="7.2"/><circle cx="892.9" cy="493.6" r="7.2"/><circle cx="932.7" cy="493.4" r="7.2"/><circle cx="963.9" cy="496.8" r="7.2"/><circle cx="671.6" cy="497.1" r="7.2"/><circle cx="700.6" cy="502.7" r="7.2"/><circle cx="847.5" cy="501.5" r="7.2"/><circle cx="857.5" cy="498.5" r="7.2"/><circle cx="870.9" cy="496.9" r="7.2"/><circle cx="908.0" cy="509.6" r="7.2"/><circle cx="887.7" cy="515.5" r="7.2"/><circle cx="948.0" cy="514.4" r="7.2"/><circle cx="694.5" cy="518.4" r="7.2"/><circle cx="864.7" cy="521.9" r="7.2"/><circle cx="651.8" cy="526.7" r="7.2"/><circle cx="774.4" cy="524.0" r="7.2"/><circle cx="806.1" cy="526.5" r="7.2"/><circle cx="827.2" cy="524.8" r="7.2"/><circle cx="902.6" cy="532.4" r="7.2"/><circle cx="989.6" cy="402.5" r="7.2"/><circle cx="1007.8" cy="410.9" r="7.2"/><circle cx="995.7" cy="437.8" r="7.2"/><circle cx="993.0" cy="465.4" r="7.2"/><circle cx="977.2" cy="482.9" r="7.2"/><circle cx="690.8" cy="542.7" r="7.2"/><circle cx="768.7" cy="547.4" r="7.2"/><circle cx="790.2" cy="561.4" r="7.2"/><circle cx="704.6" cy="562.4" r="7.2"/><circle cx="743.4" cy="574.2" r="7.2"/><circle cx="756.5" cy="570.6" r="7.2"/><circle cx="777.0" cy="568.5" r="7.2"/><circle cx="695.2" cy="595.2" r="7.2"/><circle cx="685.1" cy="615.5" r="7.2"/><circle cx="819.1" cy="545.8" r="7.2"/><circle cx="875.8" cy="545.0" r="7.2"/><circle cx="944.8" cy="546.5" r="7.2"/><circle cx="837.8" cy="555.2" r="7.2"/><circle cx="855.5" cy="558.0" r="7.2"/><circle cx="881.1" cy="559.4" r="7.2"/><circle cx="902.3" cy="554.5" r="7.2"/><circle cx="808.1" cy="571.7" r="7.2"/><circle cx="956.9" cy="584.2" r="7.2"/><circle cx="938.1" cy="596.4" r="7.2"/><circle cx="939.4" cy="607.1" r="7.2"/><circle cx="953.1" cy="620.1" r="7.2"/><circle cx="982.7" cy="614.0" r="7.2"/><circle cx="982.1" cy="631.1" r="7.2"/><circle cx="494.8" cy="626.6" r="7.2"/><circle cx="470.6" cy="648.3" r="7.2"/><circle cx="519.6" cy="702.3" r="7.2"/></g>
<g><circle cx="372.3" cy="192.6" r="6.35" fill="#f5f33c"/><circle cx="433.5" cy="204.6" r="6.35" fill="#f5f33c"/><circle cx="390.6" cy="214.7" r="6.35" fill="#f5f33c"/><circle cx="359.3" cy="225.4" r="6.35" fill="#f5f33c"/><circle cx="434.8" cy="229.5" r="6.35" fill="#f5f33c"/><circle cx="474.7" cy="226.9" r="6.35" fill="#f5f33c"/><circle cx="501.1" cy="238.1" r="6.35" fill="#f5f33c"/><circle cx="509.3" cy="254.9" r="6.35" fill="#dc7016"/><circle cx="543.6" cy="259.7" r="6.35" fill="#dc7016"/><circle cx="343.5" cy="249.8" r="6.35" fill="#f5f33c"/><circle cx="368.5" cy="258.5" r="6.35" fill="#f5f33c"/><circle cx="338.7" cy="283.6" r="6.35" fill="#f5f33c"/><circle cx="433.5" cy="284.1" r="6.35" fill="#f5f33c"/><circle cx="312.3" cy="307.0" r="6.35" fill="#f5f33c"/><circle cx="453.7" cy="304.2" r="6.35" fill="#dc7016"/><circle cx="467.6" cy="308.0" r="6.35" fill="#dc7016"/><circle cx="483.9" cy="304.0" r="6.35" fill="#f5f33c"/><circle cx="614.3" cy="300.7" r="6.35" fill="#dc7016"/><circle cx="565.2" cy="318.2" r="6.35" fill="#dc7016"/><circle cx="367.1" cy="348.7" r="6.35" fill="#f5f33c"/><circle cx="482.6" cy="347.9" r="6.35" fill="#f5f33c"/><circle cx="585.0" cy="353.5" r="6.35" fill="#f5f33c"/><circle cx="979.3" cy="314.6" r="6.35" fill="#f5f33c"/><circle cx="987.4" cy="350.2" r="6.35" fill="#f5f33c"/><circle cx="939.4" cy="377.1" r="6.35" fill="#f5f33c"/><circle cx="326.8" cy="393.6" r="6.35" fill="#3a9a4c"/><circle cx="355.0" cy="399.0" r="6.35" fill="#f5f33c"/><circle cx="527.1" cy="386.5" r="6.35" fill="#f5f33c"/><circle cx="582.0" cy="380.7" r="6.35" fill="#dc7016"/><circle cx="582.7" cy="399.0" r="6.35" fill="#dc7016"/><circle cx="358.5" cy="426.8" r="6.35" fill="#f5f33c"/><circle cx="334.8" cy="431.5" r="6.35" fill="#dc7016"/><circle cx="419.3" cy="428.0" r="6.35" fill="#3a9a4c"/><circle cx="469.3" cy="455.5" r="6.35" fill="#3a9a4c"/><circle cx="455.9" cy="462.7" r="6.35" fill="#3a9a4c"/><circle cx="363.4" cy="455.9" r="6.35" fill="#3a9a4c"/><circle cx="394.7" cy="470.6" r="6.35" fill="#3a9a4c"/><circle cx="546.4" cy="467.9" r="6.35" fill="#dc7016"/><circle cx="622.6" cy="470.9" r="6.35" fill="#dc7016"/><circle cx="375.1" cy="484.0" r="6.35" fill="#dc7016"/><circle cx="414.8" cy="494.0" r="6.35" fill="#dc7016"/><circle cx="458.4" cy="487.0" r="6.35" fill="#3a9a4c"/><circle cx="618.8" cy="501.0" r="6.35" fill="#f5f33c"/><circle cx="471.1" cy="514.3" r="6.35" fill="#3a9a4c"/><circle cx="538.2" cy="520.4" r="6.35" fill="#dc7016"/><circle cx="543.3" cy="530.1" r="6.35" fill="#3a9a4c"/><circle cx="610.9" cy="533.2" r="6.35" fill="#f5f33c"/><circle cx="932.2" cy="360.8" r="6.35" fill="#f5f33c"/><circle cx="644.1" cy="359.1" r="6.35" fill="#dc7016"/><circle cx="838.1" cy="380.7" r="6.35" fill="#3a9a4c"/><circle cx="797.7" cy="505.2" r="6.35" fill="#dc7016"/><circle cx="745.6" cy="526.3" r="6.35" fill="#f5f33c"/><circle cx="637.8" cy="546.4" r="6.35" fill="#f5f33c"/><circle cx="731.0" cy="549.8" r="6.35" fill="#f5f33c"/><circle cx="681.8" cy="567.5" r="6.35" fill="#f5f33c"/><circle cx="721.1" cy="574.2" r="6.35" fill="#f5f33c"/><circle cx="669.4" cy="581.8" r="6.35" fill="#f5f33c"/><circle cx="651.1" cy="618.4" r="6.35" fill="#f5f33c"/><circle cx="671.9" cy="645.4" r="6.35" fill="#f5f33c"/><circle cx="825.9" cy="562.2" r="6.35" fill="#3a9a4c"/><circle cx="937.7" cy="563.1" r="6.35" fill="#f5f33c"/><circle cx="1055.9" cy="667.8" r="6.35" fill="#dc7016"/><circle cx="511.3" cy="222.9" r="6.35" fill="#3371f6"/><circle cx="492.3" cy="249.1" r="6.35" fill="#3371f6"/><circle cx="602.4" cy="234.9" r="6.35" fill="#3371f6"/><circle cx="333.9" cy="334.6" r="6.35" fill="#3371f6"/><circle cx="642.9" cy="222.4" r="6.35" fill="#3371f6"/><circle cx="648.5" cy="250.8" r="6.35" fill="#3371f6"/><circle cx="700.3" cy="249.6" r="6.35" fill="#3371f6"/><circle cx="760.8" cy="250.1" r="6.35" fill="#3371f6"/><circle cx="822.1" cy="252.4" r="6.35" fill="#3371f6"/><circle cx="878.0" cy="273.5" r="6.35" fill="#3371f6"/><circle cx="748.1" cy="288.0" r="6.35" fill="#3371f6"/><circle cx="797.2" cy="284.6" r="6.35" fill="#3371f6"/><circle cx="817.8" cy="291.8" r="6.35" fill="#3371f6"/><circle cx="851.7" cy="283.4" r="6.35" fill="#3371f6"/><circle cx="744.8" cy="303.5" r="6.35" fill="#3371f6"/><circle cx="776.1" cy="306.0" r="6.35" fill="#3371f6"/><circle cx="682.8" cy="309.0" r="6.35" fill="#3371f6"/><circle cx="700.3" cy="313.4" r="6.35" fill="#3371f6"/><circle cx="874.8" cy="303.6" r="6.35" fill="#3371f6"/><circle cx="880.9" cy="314.2" r="6.35" fill="#3371f6"/><circle cx="856.8" cy="318.5" r="6.35" fill="#3371f6"/><circle cx="869.7" cy="319.3" r="6.35" fill="#3371f6"/><circle cx="803.0" cy="318.4" r="6.35" fill="#3371f6"/><circle cx="823.4" cy="320.5" r="6.35" fill="#3371f6"/><circle cx="747.9" cy="321.0" r="6.35" fill="#3371f6"/><circle cx="761.1" cy="331.7" r="6.35" fill="#3371f6"/><circle cx="785.0" cy="334.0" r="6.35" fill="#3371f6"/><circle cx="808.1" cy="336.2" r="6.35" fill="#3371f6"/><circle cx="824.6" cy="338.8" r="6.35" fill="#3371f6"/><circle cx="705.7" cy="336.0" r="6.35" fill="#3371f6"/><circle cx="771.4" cy="344.5" r="6.35" fill="#3371f6"/><circle cx="848.1" cy="342.1" r="6.35" fill="#3371f6"/><circle cx="888.8" cy="327.3" r="6.35" fill="#3371f6"/><circle cx="883.3" cy="340.4" r="6.35" fill="#3371f6"/><circle cx="911.3" cy="340.0" r="6.35" fill="#3371f6"/><circle cx="928.7" cy="340.2" r="6.35" fill="#3371f6"/><circle cx="918.8" cy="348.5" r="6.35" fill="#3371f6"/><circle cx="932.8" cy="323.4" r="6.35" fill="#3371f6"/><circle cx="949.9" cy="303.8" r="6.35" fill="#3371f6"/><circle cx="963.8" cy="297.5" r="6.35" fill="#3371f6"/><circle cx="969.6" cy="342.0" r="6.35" fill="#3371f6"/><circle cx="1074.2" cy="200.7" r="6.35" fill="#3371f6"/><circle cx="1074.2" cy="237.6" r="6.35" fill="#3371f6"/><circle cx="1019.0" cy="259.3" r="6.35" fill="#3371f6"/><circle cx="1061.3" cy="264.3" r="6.35" fill="#3371f6"/><circle cx="982.9" cy="276.7" r="6.35" fill="#3371f6"/><circle cx="1046.6" cy="277.0" r="6.35" fill="#3371f6"/><circle cx="1050.3" cy="280.6" r="6.35" fill="#3371f6"/><circle cx="1057.6" cy="290.6" r="6.35" fill="#3371f6"/><circle cx="985.1" cy="293.6" r="6.35" fill="#3371f6"/><circle cx="1018.0" cy="293.3" r="6.35" fill="#3371f6"/><circle cx="1036.9" cy="304.6" r="6.35" fill="#3371f6"/><circle cx="1055.3" cy="304.0" r="6.35" fill="#3371f6"/><circle cx="990.8" cy="310.0" r="6.35" fill="#3371f6"/><circle cx="997.6" cy="325.7" r="6.35" fill="#3371f6"/><circle cx="1023.9" cy="329.6" r="6.35" fill="#3371f6"/><circle cx="1021.8" cy="333.8" r="6.35" fill="#3371f6"/><circle cx="1004.1" cy="337.6" r="6.35" fill="#3371f6"/><circle cx="965.0" cy="352.7" r="6.35" fill="#3371f6"/><circle cx="937.4" cy="353.5" r="6.35" fill="#3371f6"/><circle cx="1010.7" cy="351.2" r="6.35" fill="#3371f6"/><circle cx="1006.0" cy="356.7" r="6.35" fill="#3371f6"/><circle cx="1022.0" cy="357.3" r="6.35" fill="#3371f6"/><circle cx="972.9" cy="368.8" r="6.35" fill="#3371f6"/><circle cx="992.5" cy="368.9" r="6.35" fill="#3371f6"/><circle cx="989.0" cy="376.6" r="6.35" fill="#3371f6"/><circle cx="1012.8" cy="381.3" r="6.35" fill="#3371f6"/><circle cx="337.7" cy="360.2" r="6.35" fill="#3371f6"/><circle cx="320.8" cy="373.2" r="6.35" fill="#3371f6"/><circle cx="338.4" cy="372.6" r="6.35" fill="#3371f6"/><circle cx="321.6" cy="393.8" r="6.35" fill="#3371f6"/><circle cx="315.9" cy="523.1" r="6.35" fill="#3371f6"/><circle cx="744.6" cy="351.4" r="6.35" fill="#3371f6"/><circle cx="788.5" cy="351.4" r="6.35" fill="#3371f6"/><circle cx="864.8" cy="354.5" r="6.35" fill="#3371f6"/><circle cx="881.1" cy="357.3" r="6.35" fill="#3371f6"/><circle cx="903.4" cy="352.2" r="6.35" fill="#3371f6"/><circle cx="712.3" cy="356.5" r="6.35" fill="#3371f6"/><circle cx="700.3" cy="365.4" r="6.35" fill="#3371f6"/><circle cx="761.6" cy="359.6" r="6.35" fill="#3371f6"/><circle cx="801.5" cy="366.2" r="6.35" fill="#3371f6"/><circle cx="840.1" cy="366.7" r="6.35" fill="#3371f6"/><circle cx="822.8" cy="375.6" r="6.35" fill="#3371f6"/><circle cx="852.1" cy="379.9" r="6.35" fill="#3371f6"/><circle cx="881.8" cy="373.0" r="6.35" fill="#3371f6"/><circle cx="900.6" cy="369.2" r="6.35" fill="#3371f6"/><circle cx="914.9" cy="368.0" r="6.35" fill="#3371f6"/><circle cx="923.3" cy="378.6" r="6.35" fill="#3371f6"/><circle cx="962.1" cy="388.2" r="6.35" fill="#3371f6"/><circle cx="969.1" cy="396.5" r="6.35" fill="#3371f6"/><circle cx="780.1" cy="381.2" r="6.35" fill="#3371f6"/><circle cx="726.5" cy="385.8" r="6.35" fill="#3371f6"/><circle cx="729.8" cy="395.4" r="6.35" fill="#3371f6"/><circle cx="716.6" cy="399.7" r="6.35" fill="#3371f6"/><circle cx="766.4" cy="403.0" r="6.35" fill="#3371f6"/><circle cx="767.4" cy="408.6" r="6.35" fill="#3371f6"/><circle cx="793.9" cy="403.5" r="6.35" fill="#3371f6"/><circle cx="877.0" cy="390.3" r="6.35" fill="#3371f6"/><circle cx="909.8" cy="399.2" r="6.35" fill="#3371f6"/><circle cx="924.0" cy="397.2" r="6.35" fill="#3371f6"/><circle cx="863.5" cy="408.6" r="6.35" fill="#3371f6"/><circle cx="880.3" cy="409.1" r="6.35" fill="#3371f6"/><circle cx="836.8" cy="414.2" r="6.35" fill="#3371f6"/><circle cx="900.9" cy="415.5" r="6.35" fill="#3371f6"/><circle cx="932.8" cy="416.7" r="6.35" fill="#3371f6"/><circle cx="951.0" cy="413.6" r="6.35" fill="#3371f6"/><circle cx="962.4" cy="411.6" r="6.35" fill="#3371f6"/><circle cx="689.4" cy="427.2" r="6.35" fill="#3371f6"/><circle cx="733.6" cy="436.6" r="6.35" fill="#3371f6"/><circle cx="750.4" cy="434.8" r="6.35" fill="#3371f6"/><circle cx="820.0" cy="434.6" r="6.35" fill="#3371f6"/><circle cx="855.6" cy="432.8" r="6.35" fill="#3371f6"/><circle cx="917.4" cy="435.1" r="6.35" fill="#3371f6"/><circle cx="955.2" cy="436.4" r="6.35" fill="#3371f6"/><circle cx="973.9" cy="437.2" r="6.35" fill="#3371f6"/><circle cx="853.1" cy="449.8" r="6.35" fill="#3371f6"/><circle cx="895.0" cy="450.8" r="6.35" fill="#3371f6"/><circle cx="918.2" cy="455.2" r="6.35" fill="#3371f6"/><circle cx="942.8" cy="455.2" r="6.35" fill="#3371f6"/><circle cx="712.5" cy="455.2" r="6.35" fill="#3371f6"/><circle cx="738.7" cy="458.5" r="6.35" fill="#3371f6"/><circle cx="792.9" cy="460.0" r="6.35" fill="#3371f6"/><circle cx="819.8" cy="462.8" r="6.35" fill="#3371f6"/><circle cx="924.3" cy="465.0" r="6.35" fill="#3371f6"/><circle cx="878.0" cy="467.9" r="6.35" fill="#3371f6"/><circle cx="964.6" cy="471.8" r="6.35" fill="#3371f6"/><circle cx="686.1" cy="470.4" r="6.35" fill="#3371f6"/><circle cx="736.2" cy="471.4" r="6.35" fill="#3371f6"/><circle cx="804.3" cy="474.2" r="6.35" fill="#3371f6"/><circle cx="854.6" cy="478.0" r="6.35" fill="#3371f6"/><circle cx="944.2" cy="480.0" r="6.35" fill="#3371f6"/><circle cx="769.5" cy="482.3" r="6.35" fill="#3371f6"/><circle cx="823.9" cy="487.7" r="6.35" fill="#3371f6"/><circle cx="892.9" cy="493.6" r="6.35" fill="#3371f6"/><circle cx="932.7" cy="493.4" r="6.35" fill="#3371f6"/><circle cx="963.9" cy="496.8" r="6.35" fill="#3371f6"/><circle cx="671.6" cy="497.1" r="6.35" fill="#3371f6"/><circle cx="700.6" cy="502.7" r="6.35" fill="#3371f6"/><circle cx="847.5" cy="501.5" r="6.35" fill="#3371f6"/><circle cx="857.5" cy="498.5" r="6.35" fill="#3371f6"/><circle cx="870.9" cy="496.9" r="6.35" fill="#3371f6"/><circle cx="908.0" cy="509.6" r="6.35" fill="#3371f6"/><circle cx="887.7" cy="515.5" r="6.35" fill="#3371f6"/><circle cx="948.0" cy="514.4" r="6.35" fill="#3371f6"/><circle cx="694.5" cy="518.4" r="6.35" fill="#3371f6"/><circle cx="864.7" cy="521.9" r="6.35" fill="#3371f6"/><circle cx="651.8" cy="526.7" r="6.35" fill="#3371f6"/><circle cx="774.4" cy="524.0" r="6.35" fill="#3371f6"/><circle cx="806.1" cy="526.5" r="6.35" fill="#3371f6"/><circle cx="827.2" cy="524.8" r="6.35" fill="#3371f6"/><circle cx="902.6" cy="532.4" r="6.35" fill="#3371f6"/><circle cx="989.6" cy="402.5" r="6.35" fill="#3371f6"/><circle cx="1007.8" cy="410.9" r="6.35" fill="#3371f6"/><circle cx="995.7" cy="437.8" r="6.35" fill="#3371f6"/><circle cx="993.0" cy="465.4" r="6.35" fill="#3371f6"/><circle cx="977.2" cy="482.9" r="6.35" fill="#3371f6"/><circle cx="690.8" cy="542.7" r="6.35" fill="#3371f6"/><circle cx="768.7" cy="547.4" r="6.35" fill="#3371f6"/><circle cx="790.2" cy="561.4" r="6.35" fill="#3371f6"/><circle cx="704.6" cy="562.4" r="6.35" fill="#3371f6"/><circle cx="743.4" cy="574.2" r="6.35" fill="#3371f6"/><circle cx="756.5" cy="570.6" r="6.35" fill="#3371f6"/><circle cx="777.0" cy="568.5" r="6.35" fill="#3371f6"/><circle cx="695.2" cy="595.2" r="6.35" fill="#3371f6"/><circle cx="685.1" cy="615.5" r="6.35" fill="#3371f6"/><circle cx="819.1" cy="545.8" r="6.35" fill="#3371f6"/><circle cx="875.8" cy="545.0" r="6.35" fill="#3371f6"/><circle cx="944.8" cy="546.5" r="6.35" fill="#3371f6"/><circle cx="837.8" cy="555.2" r="6.35" fill="#3371f6"/><circle cx="855.5" cy="558.0" r="6.35" fill="#3371f6"/><circle cx="881.1" cy="559.4" r="6.35" fill="#3371f6"/><circle cx="902.3" cy="554.5" r="6.35" fill="#3371f6"/><circle cx="808.1" cy="571.7" r="6.35" fill="#3371f6"/><circle cx="956.9" cy="584.2" r="6.35" fill="#3371f6"/><circle cx="938.1" cy="596.4" r="6.35" fill="#3371f6"/><circle cx="939.4" cy="607.1" r="6.35" fill="#3371f6"/><circle cx="953.1" cy="620.1" r="6.35" fill="#3371f6"/><circle cx="982.7" cy="614.0" r="6.35" fill="#3371f6"/><circle cx="982.1" cy="631.1" r="6.35" fill="#3371f6"/><circle cx="494.8" cy="626.6" r="6.35" fill="#3371f6"/><circle cx="470.6" cy="648.3" r="6.35" fill="#3371f6"/><circle cx="519.6" cy="702.3" r="6.35" fill="#3371f6"/></g>
<g font-size="15.3" fill="#c2c2cb" filter="url(#gaa)">
<text x="228" y="741.4" textLength="311.5" lengthAdjust="spacingAndGlyphs">Linear seasonal trends fitted to 1970-2021 data.</text>
<text x="228" y="757.6" textLength="141.5" lengthAdjust="spacingAndGlyphs">Source: RCC-ACIS.org</text>
</g>
<g filter="url(#gaa)"><g aria-label="CLIMATE"><text transform="translate(919.05 759.2) scale(1.0273 1)" font-size="20.1" font-weight="bold" fill="#a9a9b2">C</text><text transform="translate(934.27 759.2) scale(0.9889 1)" font-size="20.1" font-weight="bold" fill="#a9a9b2">L</text><text transform="translate(946.68 759.2) scale(1.2779 1)" font-size="20.1" font-weight="bold" fill="#a9a9b2">I</text><text transform="translate(954.46 759.2) scale(1.0673 1)" font-size="20.1" font-weight="bold" fill="#a9a9b2">M</text><text transform="translate(972.91 759.2) scale(1.1717 1)" font-size="20.1" font-weight="bold" fill="#a9a9b2">A</text><text transform="translate(989.07 759.2) scale(1.0138 1)" font-size="20.1" font-weight="bold" fill="#a9a9b2">T</text><text transform="translate(1002.60 759.2) scale(0.9666 1)" font-size="20.1" font-weight="bold" fill="#a9a9b2">E</text></g><g aria-label="CENTRAL"><text transform="translate(1085.16 759.2) scale(1.0197 1)" font-size="20.1" font-weight="bold" fill="#a9a9b2">C</text><text transform="translate(1100.90 759.2) scale(0.9666 1)" font-size="20.1" font-weight="bold" fill="#a9a9b2">E</text><text transform="translate(1114.34 759.2) scale(1.1594 1)" font-size="20.1" font-weight="bold" fill="#a9a9b2">N</text><text transform="translate(1130.94 759.2) scale(1.1321 1)" font-size="20.1" font-weight="bold" fill="#a9a9b2">T</text><text transform="translate(1146.12 759.2) scale(0.9484 1)" font-size="20.1" font-weight="bold" fill="#a9a9b2">R</text><text transform="translate(1159.69 759.2) scale(1.2236 1)" font-size="20.1" font-weight="bold" fill="#a9a9b2">A</text><text transform="translate(1177.88 759.2) scale(1.0567 1)" font-size="20.1" font-weight="bold" fill="#a9a9b2">L</text></g></g>
<g>
<circle cx="1036" cy="751.5" r="15.5" fill="#a9a9b2"/>
<circle cx="1065" cy="751.5" r="15.5" fill="#a9a9b2"/>
<circle cx="1037" cy="751.5" r="8" fill="#08091e"/>
<circle cx="1064" cy="751.5" r="8" fill="#08091e"/>
<circle cx="1050.5" cy="751.5" r="8.6" fill="#a9a9b2"/>
<circle cx="1050.5" cy="751.5" r="6.5" fill="#08091e"/>
</g>
</svg>
</body></html>
